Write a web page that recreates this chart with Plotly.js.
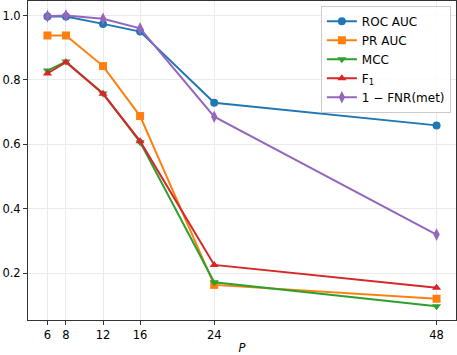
<!DOCTYPE html>
<html>
<head>
<meta charset="utf-8">
<script src="https://cdn.plot.ly/plotly-3.0.1.min.js"></script>
<style>
  html, body { margin: 0; padding: 0; background: #fff; }
  #chart { width: 457px; height: 355px; }
</style>
</head>
<body>
<div id="chart"></div>
<script>
// P values on the x axis
const pValues = [6, 8, 12, 16, 24, 48];

// metric curves
const rocAuc = [0.997, 0.997, 0.974, 0.950, 0.729, 0.659];
const prAuc = [0.938, 0.938, 0.843, 0.688, 0.164, 0.121];
const mcc = [0.829, 0.857, 0.758, 0.607, 0.172, 0.098];
const f1 = [0.820, 0.855, 0.757, 0.610, 0.226, 0.155];
const oneMinusFnr = [0.998, 1.000, 0.990, 0.960, 0.686, 0.320];

const seriesNames = ["ROC AUC", "PR AUC", "MCC", "F<sub>1</sub>", "1 − FNR(met)"];
const seriesColors = ["#1f77b4", "#ff7f0e", "#2ca02c", "#d62728", "#9467bd"];
const seriesSymbols = ["circle", "square", "triangle-down", "triangle-up", "diamond-tall"];

const xTicks = [6, 8, 12, 16, 24, 48];
const yTicks = [0.2, 0.4, 0.6, 0.8, 1.0];

const allY = [rocAuc, prAuc, mcc, f1, oneMinusFnr];

const traces = allY.map((ys, i) => ({
  type: "scatter",
  mode: "lines+markers",
  name: seriesNames[i],
  x: pValues,
  y: ys,
  line: { color: seriesColors[i], width: 2 },
  marker: { color: seriesColors[i], symbol: seriesSymbols[i], size: i === 4 ? 9 : 8 },
}));

const font = { family: "DejaVu Sans, sans-serif", size: 11.5, color: "#000" };

const layout = {
  width: 457,
  height: 355,
  margin: { l: 28, r: 1, t: 1, b: 35 },
  paper_bgcolor: "#fff",
  plot_bgcolor: "#fff",
  font: font,
  showlegend: true,
  legend: {
    x: 0.988, y: 0.985, xanchor: "right", yanchor: "top",
    bgcolor: "rgba(255,255,255,0.85)",
    bordercolor: "#ccc", borderwidth: 1,
    font: { family: "DejaVu Sans, sans-serif", size: 12 },
    itemwidth: 30,
    tracegroupgap: 0,
  },
  xaxis: {
    range: [3.9, 50.1],
    tickvals: xTicks,
    ticktext: xTicks.map(String),
    ticks: "outside", ticklen: 4, tickcolor: "#333",
    showgrid: true, gridcolor: "#ebebeb", gridwidth: 1,
    zeroline: false,
    showline: true, linecolor: "#333", linewidth: 1, mirror: true,
    title: { text: "<i>P</i>", font: font, standoff: 6 },
  },
  yaxis: {
    range: [0.055, 1.045],
    tickvals: yTicks,
    ticktext: yTicks.map((v) => v.toFixed(1)),
    ticks: "outside", ticklen: 4, tickcolor: "#333",
    showgrid: true, gridcolor: "#ebebeb", gridwidth: 1,
    zeroline: false,
    showline: true, linecolor: "#333", linewidth: 1, mirror: true,
  },
};

Plotly.newPlot("chart", traces, layout, { staticPlot: true, displayModeBar: false });
</script>
</body>
</html>
